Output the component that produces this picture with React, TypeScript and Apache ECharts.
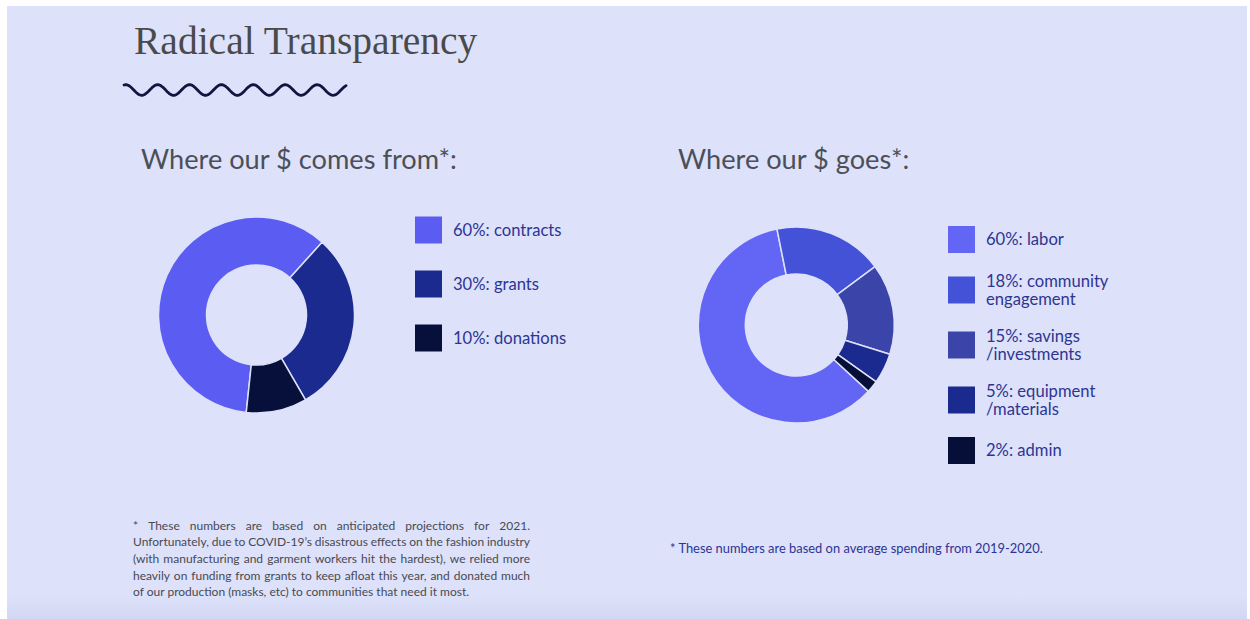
import React, { useEffect, useRef } from "react";
import * as echarts from "echarts";

const titleText = "Radical Transparency";
const incomeTitle = "Where our $ comes from*:";
const spendTitle = "Where our $ goes*:";

const incomeLabels = ["60%: contracts", "30%: grants", "10%: donations"];
const incomeValues = [60, 30, 10];
const incomeColors = ["#5a5cf2", "#1b2a8e", "#06103a"];

const spendLabels = [
  "60%: labor",
  "18%: community\nengagement",
  "15%: savings\n/investments",
  "5%: equipment\n/materials",
  "2%: admin",
];
const spendValues = [60, 18, 15, 5, 2];
const spendColors = ["#6366f5", "#4452d8", "#3b45a9", "#1b2a8f", "#050f38"];

const footnoteLeft = [
  "* These numbers are based on anticipated projections for 2021.",
  "Unfortunately, due to COVID-19\u2019s disastrous effects on the fashion industry",
  "(with manufacturing and garment workers hit the hardest), we relied more",
  "heavily on funding from grants to keep afloat this year, and donated much",
  "of our production (masks, etc) to communities that need it most.",
];
const footnoteRight = "* These numbers are based on average spending from 2019-2020.";

const SLIDE = "#dde1fa";
const LEGEND_TEXT = "#2d3592";
const SANS = "Lato, 'Noto Sans', sans-serif";

export default function App() {
  const ref = useRef<HTMLDivElement>(null);
  useEffect(() => {
    if (!ref.current) return;
    const chart = echarts.init(ref.current, undefined, { renderer: "svg" });

    const graphics: any[] = [];
    graphics.push({
      type: "rect",
      shape: { x: 7, y: 6, width: 1240, height: 613 },
      style: { fill: SLIDE },
      z: -10,
    });
    graphics.push({
      type: "rect",
      shape: { x: 7, y: 596, width: 1240, height: 23 },
      style: {
        fill: new echarts.graphic.LinearGradient(0, 0, 0, 1, [
          { offset: 0, color: SLIDE },
          { offset: 1, color: "#d2d7f3" },
        ]),
      },
      z: -9,
    });
    graphics.push({
      type: "text",
      x: 134,
      y: 41,
      style: {
        text: titleText,
        font: "39.5px 'Liberation Serif', 'DejaVu Serif', serif",
        fill: "#4a4a4a",
        verticalAlign: "middle",
        align: "left",
      },
    });
    const wavePts: number[][] = [];
    for (let x = 124; x <= 346; x += 1) {
      wavePts.push([x, 90 + 5.3 * Math.cos((2 * Math.PI * (x - 141.7)) / 31.9)]);
    }
    graphics.push({
      type: "polyline",
      shape: { points: wavePts },
      style: { stroke: "#0f1740", lineWidth: 2.8, fill: "none", lineCap: "round", lineJoin: "round" },
    });
    graphics.push({
      type: "text",
      x: 141,
      y: 158,
      style: { text: incomeTitle, font: `27.2px ${SANS}`, fill: "#4b4f58", verticalAlign: "middle" },
    });
    graphics.push({
      type: "text",
      x: 678,
      y: 158,
      style: { text: spendTitle, font: `27.2px ${SANS}`, fill: "#4b4f58", verticalAlign: "middle" },
    });

    incomeLabels.forEach((lab, i) => {
      const cy = 230 + i * 54;
      graphics.push({
        type: "rect",
        shape: { x: 415, y: cy - 13.5, width: 27, height: 27 },
        style: { fill: incomeColors[i] },
      });
      graphics.push({
        type: "text",
        x: 453,
        y: cy - 0.5,
        style: { text: lab, font: `16.6px ${SANS}`, fill: LEGEND_TEXT, verticalAlign: "middle" },
      });
    });

    let prevCy = 0;
    let prevH = 0;
    spendLabels.forEach((lab, i) => {
      const lines = lab.split("\n").length;
      const h = Math.max(27, lines * 18);
      const cy = i === 0 ? 239.5 : prevCy + prevH / 2 + 19 + h / 2;
      prevCy = cy;
      prevH = h;
      graphics.push({
        type: "rect",
        shape: { x: 948, y: cy - 13.5, width: 27, height: 27 },
        style: { fill: spendColors[i] },
      });
      graphics.push({
        type: "text",
        x: 986,
        y: cy - 0.5,
        style: {
          text: lab,
          font: `16.6px ${SANS}`,
          fill: LEGEND_TEXT,
          verticalAlign: "middle",
          lineHeight: 18,
        },
      });
    });

    const canvas = document.createElement("canvas");
    const ctx = canvas.getContext("2d")!;
    ctx.font = "12px Lato";
    const fnX = 133;
    const fnW = 397;
    footnoteLeft.forEach((line, li) => {
      const y = 525 + li * 16.7;
      if (li === footnoteLeft.length - 1) {
        graphics.push({
          type: "text",
          x: fnX,
          y,
          style: { text: line, font: `12px ${SANS}`, fill: "#474a52", verticalAlign: "middle" },
        });
        return;
      }
      const words = line.split(" ");
      const widths = words.map((w) => ctx.measureText(w).width);
      const sum = widths.reduce((a, b) => a + b, 0);
      const gap = (fnW - sum) / (words.length - 1);
      let x = fnX;
      words.forEach((w, wi) => {
        graphics.push({
          type: "text",
          x,
          y,
          style: { text: w, font: `12px ${SANS}`, fill: "#474a52", verticalAlign: "middle" },
        });
        x += widths[wi] + gap;
      });
    });
    graphics.push({
      type: "text",
      x: 670,
      y: 548,
      style: { text: footnoteRight, font: `12.9px ${SANS}`, fill: LEGEND_TEXT, verticalAlign: "middle" },
    });

    const pieBase = {
      type: "pie",
      silent: true,
      clockwise: true,
      label: { show: false },
      labelLine: { show: false },
      emphasis: { disabled: true },
      itemStyle: { borderColor: SLIDE, borderWidth: 1.5 },
    };

    chart.setOption({
      animation: false,
      backgroundColor: "#ffffff",
      graphic: { elements: graphics },
      series: [
        {
          ...pieBase,
          center: [256.5, 315],
          radius: [50, 98],
          startAngle: -96,
          data: incomeValues.map((v, i) => ({
            value: v,
            name: incomeLabels[i],
            itemStyle: { color: incomeColors[i] },
          })),
        },
        {
          ...pieBase,
          center: [796.3, 325],
          radius: [51, 98],
          startAngle: -42.6,
          data: spendValues.map((v, i) => ({
            value: v,
            name: spendLabels[i],
            itemStyle: { color: spendColors[i] },
          })),
        },
      ],
    });
    return () => chart.dispose();
  }, []);
  return (
    <div
      ref={ref}
      style={{ position: "fixed", left: 0, top: 0, width: 1250, height: 619 }}
    />
  );
}
